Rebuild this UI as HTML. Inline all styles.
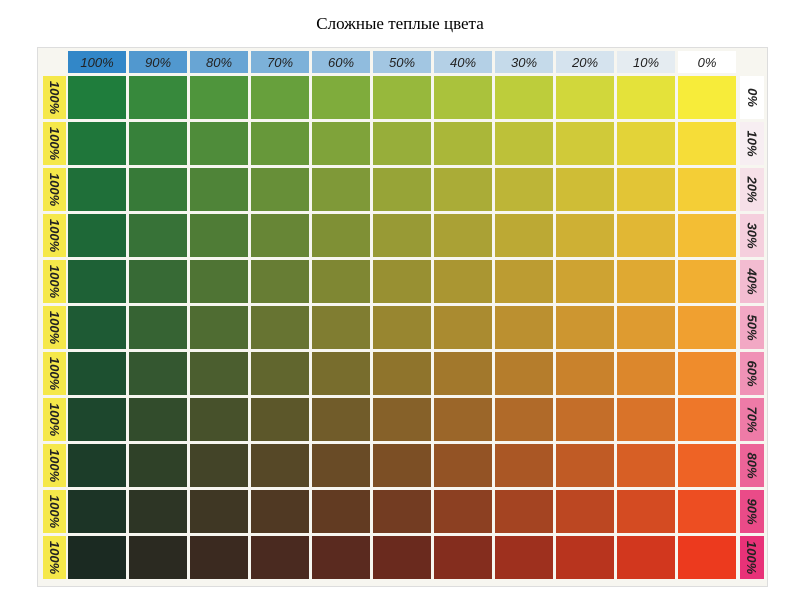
<!DOCTYPE html>
<html><head><meta charset="utf-8"><style>
body{margin:0;width:800px;height:600px;background:#fff;position:relative;overflow:hidden;font-family:"Liberation Sans",sans-serif}
#t{position:absolute;top:14px;left:0;width:800px;text-align:center;font:17px "Liberation Serif",serif;color:#000}
#frame{position:absolute;left:37px;top:47px;width:729px;height:538px;border:1px solid #ddd;background:#f7f6f0}
.c{position:absolute}
.h{font-style:italic;font-size:13px;color:#222;display:flex;align-items:center;justify-content:center}
.v{font-style:italic;font-size:13px;color:#222;display:flex;align-items:center;justify-content:center;font-weight:bold}
.v span{transform:rotate(90deg);white-space:nowrap}
</style></head><body>
<div id="t">Сложные теплые цвета</div>
<div id="frame"></div>
<div id="g"></div>
<script>
function hx(s){return [parseInt(s.substr(1,2),16),parseInt(s.substr(3,2),16),parseInt(s.substr(5,2),16)];}
var P=[["#1f7d3c","#97b83c","#f7ec3a"],["#1e5a34","#988630","#f0a030"],["#1b2a22","#6a2a1e","#ec3a1e"]].map(function(r){return r.map(hx)});
function lerp(a,b,t){return a.map(function(v,i){return v+(b[i]-v)*t});}
function pl(arr,t){t*=2;var i=t>=1?1:0;return lerp(arr[i],arr[i+1],t-i);}
function col(ci,ri){var x=ci/10,y=ri/10;var rows=P.map(function(r){return pl(r,x)});var c=pl(rows,y);return "rgb("+c.map(Math.round).join(",")+")";}
var g=document.getElementById('g'),h='';
var x0=68,pw=61,cw=58,y0=76,ph=46,chh=43;
var hb=[[50,135,200],[245,245,245]];
for(var i=0;i<11;i++){
 var t=i/10,c=lerp(hb[0],hb[1],Math.pow(t,0.8));
 if(i==10)c=[255,255,255];
 h+='<div class="c h" style="left:'+(x0+i*pw)+'px;top:51px;width:'+cw+'px;height:22px;background:rgb('+c.map(Math.round)+')">'+(100-i*10)+'%</div>';
}
var pb=[[248,248,248],[232,50,120]];
for(var r=0;r<11;r++){
 var y=y0+r*ph;
 h+='<div class="c v" style="left:43px;top:'+y+'px;width:23px;height:'+chh+'px;background:#f5e84a"><span>100%</span></div>';
 var pc=lerp(pb[0],pb[1],Math.pow(r/10,1.3));
 if(r==0)pc=[255,255,255];
 h+='<div class="c v" style="left:740px;top:'+y+'px;width:24px;height:'+chh+'px;background:rgb('+pc.map(Math.round)+')"><span>'+(r*10)+'%</span></div>';
 for(var i=0;i<11;i++){
  h+='<div class="c" style="left:'+(x0+i*pw)+'px;top:'+y+'px;width:'+cw+'px;height:'+chh+'px;background:'+col(i,r)+'"></div>';
 }
}
g.innerHTML=h;
</script>
</body></html>
